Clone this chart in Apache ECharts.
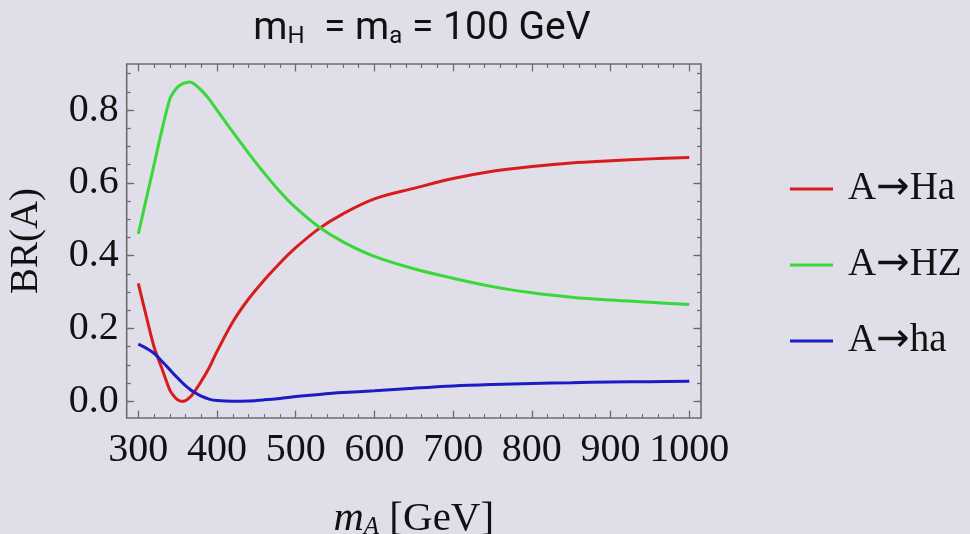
<!DOCTYPE html>
<html>
<head>
<meta charset="utf-8">
<script src="https://cdn.jsdelivr.net/npm/echarts@6/dist/echarts.min.js"></script>
<style>
  html, body { margin: 0; padding: 0; background: #e0dee8; }
  #chart { width: 970px; height: 534px; }
</style>
</head>
<body>
<div id="chart"></div>
<script>
// m_A grid (GeV) and branching ratios
var mA = [300, 310, 320, 330, 340, 345, 350, 355, 360, 365, 370, 380, 390, 400, 420, 440, 460, 480, 500, 530, 560, 600, 650, 700, 750, 800, 850, 900, 950, 1000];
var brHa = [0.324, 0.235, 0.15, 0.09, 0.031, 0.015, 0.004, 0.0, 0.002, 0.01, 0.022, 0.055, 0.092, 0.137, 0.218, 0.281, 0.333, 0.38, 0.422, 0.475, 0.515, 0.556, 0.585, 0.612, 0.632, 0.645, 0.655, 0.661, 0.666, 0.67];
var brHZ = [0.46, 0.555, 0.65, 0.745, 0.83, 0.85, 0.863, 0.871, 0.875, 0.877, 0.873, 0.855, 0.83, 0.8, 0.74, 0.682, 0.627, 0.576, 0.532, 0.478, 0.438, 0.398, 0.364, 0.338, 0.315, 0.298, 0.286, 0.278, 0.272, 0.266];
var brha = [0.157, 0.146, 0.132, 0.11, 0.087, 0.075, 0.064, 0.053, 0.043, 0.034, 0.026, 0.014, 0.006, 0.002, 0.0, 0.001, 0.004, 0.008, 0.013, 0.019, 0.024, 0.029, 0.036, 0.042, 0.046, 0.049, 0.051, 0.053, 0.054, 0.055];
var names = ['A\u2192Ha', 'A\u2192HZ', 'A\u2192ha'];
var colors = ['#d81c1c', '#38d838', '#1c1cc6'];
var xTicks = [300, 1000, 100];
var yTicks = [0, 0.8, 0.2];

var frameColor = '#6c6c6c';
var serif = '"Liberation Serif", "DejaVu Serif", serif';

function pairs(ys) {
    return mA.map(function (m, i) { return [m, ys[i]]; });
}

// tick-only axis on the data grid, pushed out onto the frame by offset
function tickAxis(pos, offset, len, extra) {
    var a = {
        type: 'value', position: pos, offset: offset,
        axisLine: { show: false, onZero: false },
        axisTick: { inside: true, length: len, lineStyle: { color: frameColor, width: 1.3 } },
        splitLine: { show: false },
        axisLabel: { show: false }
    };
    for (var k in extra) a[k] = extra[k];
    return a;
}

var chart = echarts.init(document.getElementById('chart'));

var option = {
    backgroundColor: '#e0dee8',
    animation: false,
    title: {
        text: '{b|m}{s|H}{b|  = m}{s|a}{b| = 100 GeV}',
        left: 417,
        textAlign: 'center',
        top: 4,
        textStyle: {
            fontWeight: 'normal',
            rich: {
                b: { fontFamily: 'Roboto', fontWeight: 'normal', fontSize: 39, color: '#111' },
                s: { fontFamily: 'Roboto', fontWeight: 'normal', fontSize: 24, color: '#111', padding: [16, 0, 0, 0] }
            }
        }
    },
    legend: {
        orient: 'vertical',
        left: 785,
        top: 164,
        itemWidth: 43,
        itemHeight: 3,
        itemGap: 36,
        icon: 'rect',
        data: names,
        formatter: function (name) {
            var parts = name.split('\u2192');
            return '{t|' + parts[0] + '}{a|\u2192}{t|' + parts[1] + '}';
        },
        textStyle: {
            fontFamily: serif,
            fontSize: 39,
            lineHeight: 40,
            color: '#111',
            padding: [0, 0, 0, 10],
            rich: {
                t: { fontFamily: serif, fontSize: 39, lineHeight: 40, color: '#111' },
                a: { fontFamily: '"DejaVu Sans"', fontSize: 40, lineHeight: 40, color: '#111' }
            }
        }
    },
    grid: [
        // data grid: exactly 300..1000 x 0..0.8
        { left: 138.3, right: 280.7, top: 110.1, bottom: 132.7, outerBoundsMode: 'none' },
        // minor y ticks 0..0.9
        { left: 138.3, right: 280.7, top: 73.7, bottom: 132.7, outerBoundsMode: 'none' },
        // frame
        { left: 126.7, right: 269, top: 64, bottom: 116, outerBoundsMode: 'none', show: true, borderColor: frameColor, borderWidth: 1.6, backgroundColor: 'transparent' }
    ],
    xAxis: [
        tickAxis('bottom', 16.7, 7.5, {
            gridIndex: 0, min: xTicks[0], max: xTicks[1], interval: xTicks[2],
            minorTick: { show: true, splitNumber: 5, length: 4, lineStyle: { color: frameColor, width: 1.1 } },
            axisLabel: {
                show: true, margin: 12, fontFamily: serif, fontSize: 40, color: '#111',
                formatter: function (v) { return String(v); }
            },
            name: '{i|m}{s|A} [GeV]',
            nameLocation: 'middle',
            nameGap: 80,
            nameTextStyle: {
                fontFamily: serif, fontSize: 41, color: '#111',
                rich: {
                    i: { fontFamily: serif, fontStyle: 'italic', fontSize: 42, color: '#111' },
                    s: { fontFamily: serif, fontStyle: 'italic', fontSize: 25, color: '#111', padding: [17, 0, 0, 0] }
                }
            }
        }),
        tickAxis('top', 46.1, 7.5, {
            gridIndex: 0, min: xTicks[0], max: xTicks[1], interval: xTicks[2],
            minorTick: { show: true, splitNumber: 5, length: 4, lineStyle: { color: frameColor, width: 1.1 } }
        }),
        { type: 'value', gridIndex: 1, min: 300, max: 1000, show: false },
        { type: 'value', gridIndex: 2, min: 0, max: 1, show: false }
    ],
    yAxis: [
        tickAxis('left', 11.6, 7.5, {
            gridIndex: 0, min: yTicks[0], max: yTicks[1], interval: yTicks[2],
            axisLabel: {
                show: true, margin: 8, fontFamily: serif, fontSize: 40, color: '#111',
                formatter: function (v) { return v.toFixed(1); }
            }
        }),
        tickAxis('right', 11.7, 7.5, {
            gridIndex: 0, min: yTicks[0], max: yTicks[1], interval: yTicks[2]
        }),
        tickAxis('left', 11.6, 4, { gridIndex: 1, min: 0, max: 0.9, interval: 0.05 }),
        tickAxis('right', 11.7, 4, { gridIndex: 1, min: 0, max: 0.9, interval: 0.05 }),
        {
            type: 'value', gridIndex: 2, min: 0, max: 1, position: 'left',
            axisLine: { show: false, onZero: false },
            axisTick: { show: false },
            axisLabel: { show: false },
            splitLine: { show: false },
            name: 'BR(A)',
            nameLocation: 'middle',
            nameRotate: 90,
            nameGap: 80,
            nameTextStyle: { fontFamily: serif, fontSize: 39, color: '#111' }
        }
    ],
    series: [brHa, brHZ, brha].map(function (ys, k) {
        return {
            name: names[k],
            type: 'line',
            xAxisIndex: 0,
            yAxisIndex: 0,
            data: pairs(ys),
            smooth: 0.35,
            showSymbol: false,
            clip: false,
            color: colors[k],
            lineStyle: { width: 3, color: colors[k] }
        };
    })
};

chart.setOption(option);
</script>
</body>
</html>
